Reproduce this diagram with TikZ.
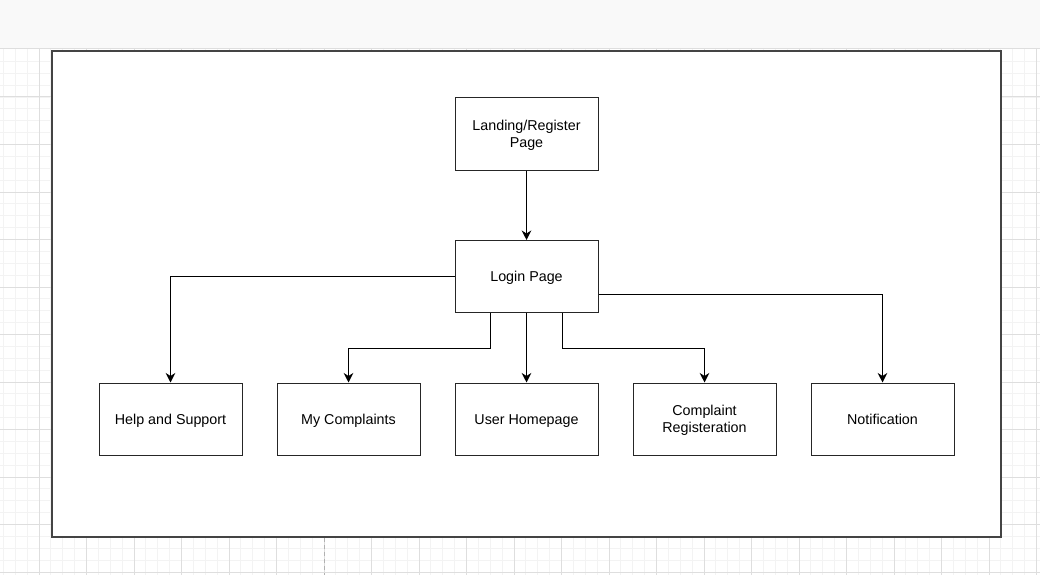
\documentclass[tikz,border=0pt]{standalone}
\usepackage{fontspec}
\setmainfont{Liberation Sans}
\usetikzlibrary{arrows.meta,calc}
\definecolor{gridminor}{HTML}{F3F3F3}
\definecolor{gridmajor}{HTML}{DEDEDE}
\definecolor{topband}{HTML}{F9F9F9}
\definecolor{frameline}{HTML}{444444}
\tikzset{
  box/.style={draw=black!85, line width=1pt, fill=white, minimum width=143pt, minimum height=72pt,
    align=center, inner sep=0pt, text depth=-1pt, font=\fontsize{14.3}{17}\selectfont},
  oneline/.style={box, text height=10.5pt},
  conn/.style={draw=black, line width=1.3pt, -{Stealth[length=9.5pt,width=9.5pt,inset=3pt]}},
  minorline/.style={draw=gridminor, line width=0.9pt},
  majorline/.style={draw=gridmajor, line width=1pt}
}
\begin{document}
\begin{tikzpicture}[x=1pt,y=-1pt]
\useasboundingbox (0,0) rectangle (1040,575);
% background
\fill[white] (0,0) rectangle (1040,575);
% grid
\foreach \x in {3.375,15.25,...,1040} \draw[minorline] (\x,49) -- (\x,575);
\foreach \y in {61.375,73.25,...,575} \draw[minorline] (0,\y) -- (1040,\y);
\foreach \x in {39,86.5,...,1040} \draw[majorline] (\x,49) -- (\x,575);
\foreach \y in {97,144.5,...,575} \draw[majorline] (0,\y) -- (1040,\y);
% top band
\fill[topband] (0,0) rectangle (1040,48);
\draw[gridmajor, line width=1pt] (0,48.5) -- (1040,48.5);
% page break line
\draw[gridmajor!80!black, line width=1pt, dash pattern=on 4pt off 3pt] (324,538) -- (324,575);
% frame
\draw[frameline, fill=white, line width=1.8pt] (52,51) rectangle (1001,537);
% nodes
\node[box] (land) at (526.5,134) {Landing/Register\\Page};
\node[oneline] (login) at (526.5,276.5) {Login Page};
\node[oneline] (help) at (170.5,419) {Help and Support};
\node[oneline] (mc) at (348.5,419) {My Complaints};
\node[oneline] (home) at (526.5,419) {User Homepage};
\node[box] (reg) at (704.5,419) {Complaint\\Registeration};
\node[oneline] (notif) at (882.5,419) {Notification};
% connectors
\draw[conn] (land.south) -- (login.north);
\draw[conn] (login.west) -| (help.north);
\draw[conn] ($(login.south west)!0.25!(login.south east)$) -- ++(0,35.5) -| (mc.north);
\draw[conn] (login.south) -- (home.north);
\draw[conn] ($(login.south west)!0.75!(login.south east)$) -- ++(0,35.5) -| (reg.north);
\draw[conn] ($(login.north east)!0.75!(login.south east)$) -| (notif.north);
\end{tikzpicture}
\end{document}
